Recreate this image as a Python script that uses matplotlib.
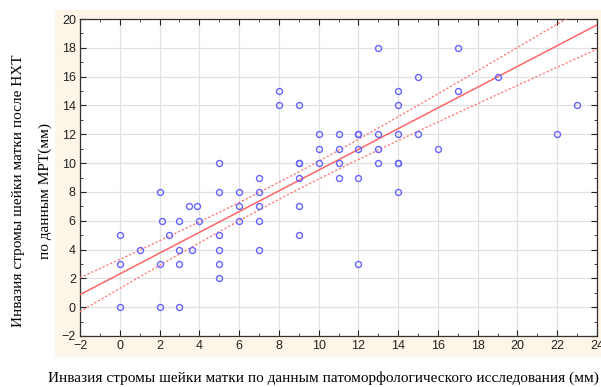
import numpy as np
import matplotlib.pyplot as plt
from matplotlib.patches import Rectangle
from matplotlib.ticker import MultipleLocator

# данные: патоморфология (x) и МРТ после НХТ (y), мм
x_pat = [0, 0, 0, 1, 2, 2, 2, 2.1, 2.5, 3, 3, 3, 3, 3.5, 3.9, 4, 3.65,
         5, 5, 5, 5, 5, 5, 6, 6, 6,
         7, 7, 7, 7, 7, 8, 8, 9, 9, 9, 9, 9, 9,
         10, 10, 10, 11, 11, 11, 11, 12, 12, 12, 12, 12,
         13, 13, 13, 13, 14, 14, 14, 14, 14, 14,
         15, 15, 16, 17, 17, 19, 22, 23]
y_mrt = [5, 3, 0, 4, 8, 3, 0, 6, 5, 6, 4, 3, 0, 7, 7, 6, 4,
         10, 8, 5, 4, 3, 2, 8, 7, 6,
         9, 8, 7, 6, 4, 15, 14, 14, 10, 10, 9, 7, 5,
         12, 11, 10, 12, 11, 10, 9, 12, 11, 9, 3, 12,
         18, 12, 11, 10, 15, 14, 12, 10, 8, 10,
         16, 12, 11, 18, 15, 16, 12, 14]

# линия регрессии и 95% дов. интервал
intercept = 2.31
slope = 0.72
ci_center = 8.2     # x, где интервал уже всего
ci_min = 0.59       # полуширина в центре
ci_curv = 0.0099    # рост квадрата полуширины

xticks = list(range(-2, 25, 2))
yticks = list(range(-2, 21, 2))

xx = np.linspace(-2, 24, 300)
yy = intercept + slope * xx
half = np.sqrt(ci_min ** 2 + ci_curv * (xx - ci_center) ** 2)

plt.rcParams['font.family'] = ['Liberation Sans', 'DejaVu Sans']
fig = plt.figure(figsize=(6.01, 3.87), dpi=100)
bg = Rectangle((55 / 601, 1 - 357 / 387), 546 / 601, 347 / 387,
               transform=fig.transFigure, facecolor='#fdf6e8',
               edgecolor='none', zorder=-5)
fig.add_artist(bg)
ax = fig.add_axes([80 / 601, 1 - 336 / 387, 517 / 601, 317 / 387])
ax.set_zorder(2)
ax.set_facecolor('white')

ax.plot(xx, yy, color='#ff6666', lw=1.1, zorder=3)
ax.plot(xx, yy + half, color='#ff7777', lw=1.0, ls=(0, (1.5, 1.5)), zorder=3)
ax.plot(xx, yy - half, color='#ff7777', lw=1.0, ls=(0, (1.5, 1.5)), zorder=3)
ax.plot(x_pat, y_mrt, 'o', mfc='none', mec='#6464ff', mew=1.0, ms=4.3, zorder=4)

ax.set_xlim(-2, 24)
ax.set_ylim(-2, 20)
ax.set_xticks(xticks)
ax.set_yticks(yticks)
ax.xaxis.set_minor_locator(MultipleLocator(1))
ax.yaxis.set_minor_locator(MultipleLocator(1))
ax.grid(True, which='major', color='#e0e0e0', lw=0.9)
ax.tick_params(which='both', direction='in', top=True, right=True,
               labelsize=9, colors='#222222', pad=3)
ax.tick_params(which='major', length=4)
ax.tick_params(which='minor', length=2.5)
for sp in ax.spines.values():
    sp.set_color('#333333')
    sp.set_linewidth(0.9)

fig.text(32 / 601, 1 - 191 / 387,
         'Инвазия стромы шейки матки после НХТ\nпо данным МРТ(мм)',
         rotation=90, ha='center', va='center', ma='center',
         family='Liberation Serif', fontsize=11, linespacing=2.3)
fig.text(323 / 601, 1 - 378 / 387,
         'Инвазия стромы шейки матки по данным патоморфологического исследования (мм)',
         ha='center', va='center', family='Liberation Serif', fontsize=11)

fig.savefig('out.png', dpi=100)
